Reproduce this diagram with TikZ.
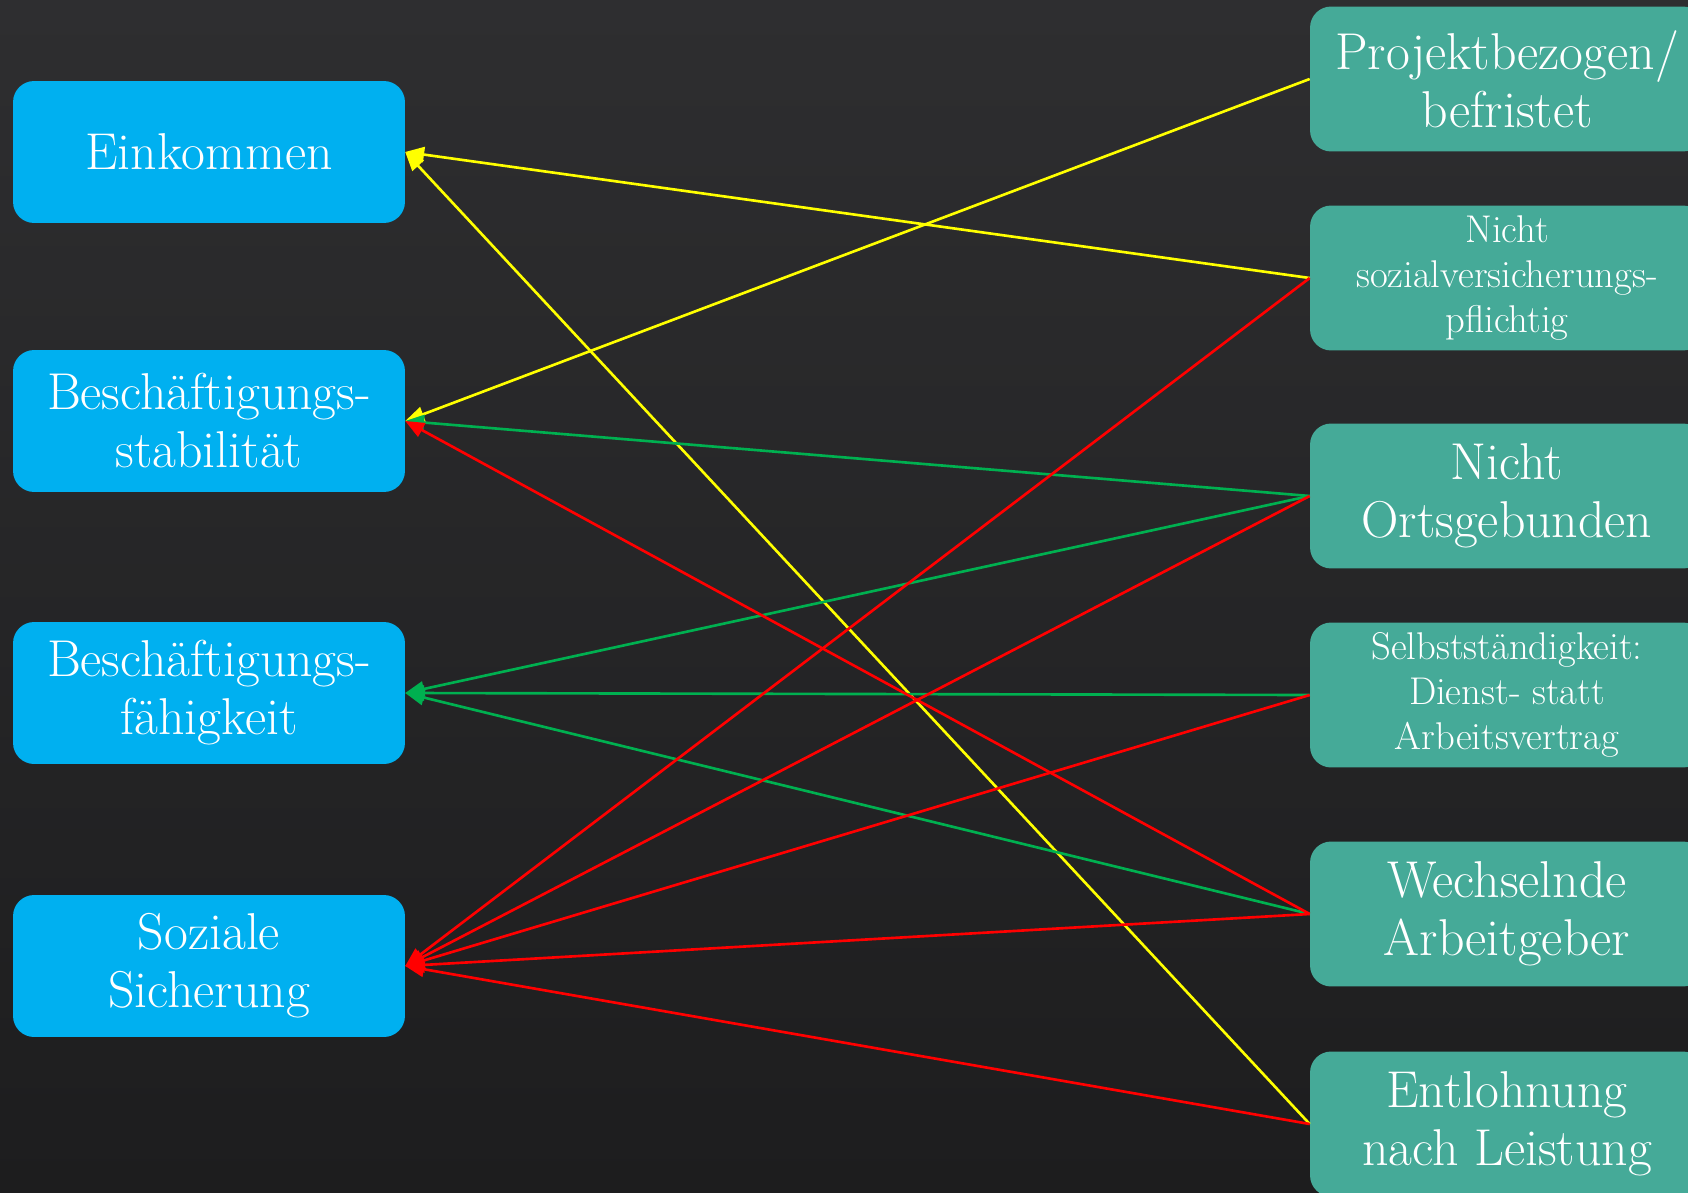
\documentclass[tikz,border=0pt]{standalone}
\usetikzlibrary{arrows}
\usepackage{xcolor}

\definecolor{bgtop}{RGB}{46,46,48}
\definecolor{bgbot}{RGB}{29,29,30}
\definecolor{goalblue}{RGB}{0,176,240}
\definecolor{featureteal}{RGB}{69,170,152}
\definecolor{linkgreen}{RGB}{0,176,80}
\definecolor{linkred}{RGB}{255,0,0}
\definecolor{linkyellow}{RGB}{255,255,0}

\tikzset{
 goal/.style={fill=goalblue, rounded corners=12pt, minimum width=7.84cm, minimum height=2.84cm,
  text=white, align=center, inner sep=0, font=\fontsize{29.5}{33}\selectfont},
 feature/.style={fill=featureteal, rounded corners=12pt, minimum width=7.88cm, minimum height=2.9cm,
  text=white, align=center, inner sep=0, font=\fontsize{29.5}{33}\selectfont},
 smalltext/.style={font=\fontsize{22}{25.8}\selectfont},
 link/.style={line width=1.5pt, -triangle 45},
}

\begin{document}
\begin{tikzpicture}[x=0.02cm, y=-0.02cm]
\shade[top color=bgtop, bottom color=bgbot] (0,0) rectangle (1688,1193);
\useasboundingbox (0,0) rectangle (1688,1193);
\clip (0,0) rectangle (1688,1193);

% Ziele (links)
\node[goal] (eink)   at (209,152) {Einkommen};
\node[goal] (stab)   at (209,421) {Beschäftigungs-\\stabilität};
\node[goal] (faeh)   at (209,693) {Beschäftigungs-\\fähigkeit};
\node[goal] (sozial) at (209,966) {Soziale\\Sicherung};

% Merkmale (rechts)
\node[feature] (proj)             at (1507,79)   {Projektbezogen/\\befristet};
\node[feature, smalltext] (svp)   at (1507,278)  {Nicht\\sozialversicherungs-\\pflichtig};
\node[feature] (ort)              at (1507,496)  {Nicht\\Ortsgebunden};
\node[feature, smalltext] (selbst) at (1507,695) {Selbstständigkeit:\\Dienst- statt\\Arbeitsvertrag};
\node[feature] (wechsel)          at (1507,914)  {Wechselnde\\Arbeitgeber};
\node[feature] (lohn)             at (1507,1124) {Entlohnung\\nach Leistung};

% gelb
\draw[link, linkyellow] (proj.west) -- (stab.east);
\draw[link, linkyellow] (svp.west) -- (eink.east);
\draw[link, linkyellow] (lohn.west) -- (eink.east);

% gruen
\draw[link, linkgreen] (ort.west) -- (stab.east);
\draw[link, linkgreen] (ort.west) -- (faeh.east);
\draw[link, linkgreen] (selbst.west) -- (faeh.east);
\draw[link, linkgreen] (wechsel.west) -- (faeh.east);

% rot
\draw[link, linkred] (wechsel.west) -- (stab.east);
\foreach \src in {svp,ort,selbst,wechsel,lohn}
 \draw[link, linkred] (\src.west) -- (sozial.east);
\end{tikzpicture}
\end{document}
